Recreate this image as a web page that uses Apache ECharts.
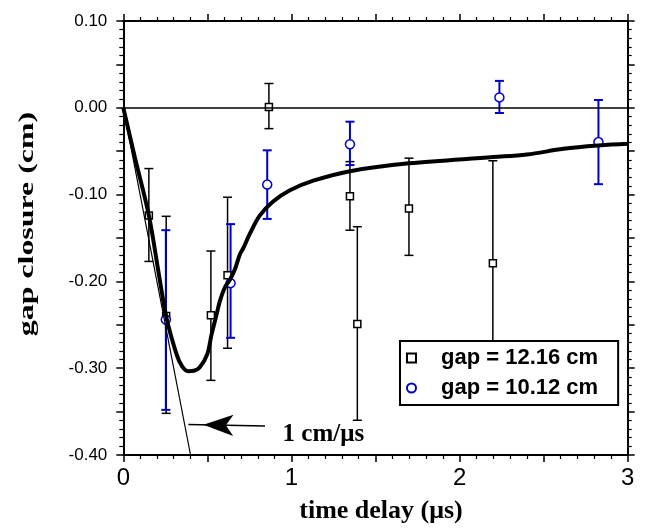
<!DOCTYPE html>
<html>
<head>
<meta charset="utf-8">
<script src="https://cdn.jsdelivr.net/npm/echarts@6/dist/echarts.min.js"></script>
<style>
html,body{margin:0;padding:0;background:#fff;}
#chart{width:645px;height:529px;}
</style>
</head>
<body>
<div id="chart"></div>
<script>
// ---- data ----
const seriesAName = 'gap = 12.16 cm';
const seriesBName = 'gap = 10.12 cm';

// gap = 12.16 cm (black squares)
const aX  = [0.152, 0.255, 0.521, 0.620, 0.866, 1.348, 1.392, 1.699, 2.198];
const aY  = [-0.124, -0.240, -0.239, -0.193, 0.001, -0.102, -0.249, -0.116, -0.179];
const aLo = [-0.177, -0.352, -0.314, -0.277, -0.024, -0.141, -0.360, -0.170, -0.297];
const aHi = [-0.070, -0.125, -0.165, -0.103, 0.028, -0.062, -0.137, -0.058, -0.061];

// gap = 10.12 cm (blue circles)
const bX  = [0.253, 0.638, 0.856, 1.348, 2.237, 2.826];
const bY  = [-0.244, -0.202, -0.0885, -0.042, 0.012, -0.0395];
const bLo = [-0.348, -0.265, -0.128, -0.066, -0.006, -0.088];
const bHi = [-0.141, -0.134, -0.049, -0.016, 0.031, 0.009];

// thick fitted curve
const curveX = [0, 0.07, 0.152, 0.21, 0.257, 0.317, 0.35, 0.386, 0.42, 0.455, 0.499, 0.525, 0.555, 0.574, 0.604, 0.634, 0.664, 0.693, 0.713, 0.753, 0.8125, 0.891, 0.991, 1.13, 1.348, 1.699, 2.2, 2.4, 2.618, 2.826, 3.0];
const curveY = [0, -0.058, -0.124, -0.19, -0.242, -0.284, -0.298, -0.3035, -0.303, -0.299, -0.284, -0.261, -0.238, -0.223, -0.207, -0.198, -0.186, -0.169, -0.162, -0.145, -0.124, -0.108, -0.095, -0.084, -0.073, -0.064, -0.0568, -0.0538, -0.0473, -0.0435, -0.0415];

// 1 cm/us reference line
const refX = [0, 0.4];
const refY = [0, -0.4];

// arrow annotation (tail, tip) and its label
const arrowTail = [0.843, -0.3665];
const arrowTip = [0.387, -0.365];
const arrowLabel = '1 cm/μs';
const arrowLabelPos = [1.19, -0.376];

// axis ticks
const xTickValues = [0, 1, 2, 3];
const xTickLabels = ['0', '1', '2', '3'];
const yTickValues = [-0.4, -0.3, -0.2, -0.1, 0, 0.1];
const yTickLabels = ['-0.40', '-0.30', '-0.20', '-0.10', '0.00', '0.10'];

const xTitle = 'time delay (μs)';
const yTitle = 'gap closure (cm)';

// ---- build ----
const zip2 = (xs, ys) => xs.map((x, i) => [x, ys[i]]);
const zip3 = (xs, lo, hi) => xs.map((x, i) => [x, lo[i], hi[i]]);
const fmt = (vals, labels) => v => {
  const i = vals.findIndex(t => Math.abs(t - v) < 1e-6);
  return i >= 0 ? labels[i] : '';
};
const SANS = '"Liberation Sans", Arial, sans-serif';
const SERIF = '"Liberation Serif", "Times New Roman", serif';
const BLUE = '#0000cc';

function errRender(color, lw) {
  return function (params, api) {
    const x = api.value(0), lo = api.value(1), hi = api.value(2);
    const pLo = api.coord([x, lo]);
    const pHi = api.coord([x, hi]);
    const cap = 4.5;
    const st = { stroke: color, lineWidth: lw };
    return {
      type: 'group',
      children: [
        { type: 'line', shape: { x1: pLo[0], y1: pLo[1], x2: pHi[0], y2: pHi[1] }, style: st },
        { type: 'line', shape: { x1: pLo[0] - cap, y1: pLo[1], x2: pLo[0] + cap, y2: pLo[1] }, style: st },
        { type: 'line', shape: { x1: pHi[0] - cap, y1: pHi[1], x2: pHi[0] + cap, y2: pHi[1] }, style: st }
      ]
    };
  };
}

const axisLine = { show: true, onZero: false, lineStyle: { color: '#000', width: 2 } };
const axisTick = { show: true, inside: false, length: 7, lineStyle: { color: '#000', width: 1.5 } };
const minorTick = { show: true, splitNumber: 5, length: 4, lineStyle: { color: '#000', width: 1.2 } };

function xAx(pos, showLabel) {
  return {
    type: 'value', min: 0, max: 3, interval: 0.5, position: pos,
    axisLine, axisTick, minorTick,
    splitLine: { show: false }, minorSplitLine: { show: false },
    axisLabel: {
      show: showLabel, formatter: fmt(xTickValues, xTickLabels),
      fontFamily: SANS, fontSize: 24, color: '#000', margin: 11
    },
    name: showLabel ? xTitle : '',
    nameLocation: 'middle', nameGap: 43,
    nameTextStyle: { fontFamily: SERIF, fontWeight: 'bold', fontSize: 26, color: '#000', padding: [0, 0, 0, 11] }
  };
}
function yAx(pos, showLabel) {
  return {
    type: 'value', min: -0.4, max: 0.1, interval: 0.05, position: pos,
    axisLine, axisTick, minorTick,
    splitLine: { show: false }, minorSplitLine: { show: false },
    axisLabel: {
      show: showLabel, formatter: fmt(yTickValues, yTickLabels),
      fontFamily: SANS, fontSize: 17, color: '#000', margin: 16
    }
  };
}

const option = {
  animation: false,
  backgroundColor: '#fff',
  grid: { left: 123.3, right: 17.3, top: 21, bottom: 71, containLabel: false },
  xAxis: [xAx('bottom', true), xAx('top', false)],
  yAxis: [yAx('left', true), yAx('right', false)],
  legend: {
    orient: 'vertical', left: 400, top: 341,
    padding: [6, 20, 6, 6], itemGap: 8, itemWidth: 9, itemHeight: 9,
    borderColor: '#000', borderWidth: 2, borderRadius: 0, backgroundColor: '#fff',
    selectedMode: false,
    data: [
      { name: seriesAName, icon: 'rect' },
      { name: seriesBName, icon: 'circle' }
    ],
    formatter: n => '{a|' + n + '}',
    textStyle: {
      rich: { a: { fontFamily: SANS, fontWeight: 'bold', fontSize: 22, color: '#000', padding: [0, 0, 0, 20], lineHeight: 24 } }
    }
  },
  graphic: [{
    type: 'text', x: 27, y: 224, rotation: Math.PI / 2, scaleX: 1.45, scaleY: 1,
    style: { text: yTitle, font: 'bold 22px ' + SERIF, fill: '#000', textAlign: 'center', textVerticalAlign: 'middle' }
  }],
  series: [
    {
      name: 'errA', type: 'custom', z: 2, silent: true,
      renderItem: errRender('#000', 1.5),
      encode: { x: 0, y: [1, 2] },
      data: zip3(aX, aLo, aHi)
    },
    {
      name: 'errB', type: 'custom', z: 2, silent: true,
      renderItem: errRender(BLUE, 2),
      encode: { x: 0, y: [1, 2] },
      data: zip3(bX, bLo, bHi)
    },
    {
      name: seriesAName, type: 'scatter', z: 3, silent: true,
      symbol: 'rect', symbolSize: 7,
      itemStyle: { color: '#fff', borderColor: '#000', borderWidth: 1.5, opacity: 1 },
      data: zip2(aX, aY)
    },
    {
      name: seriesBName, type: 'scatter', z: 3, silent: true,
      symbol: 'circle', symbolSize: 9,
      itemStyle: { color: '#fff', borderColor: BLUE, borderWidth: 1.5, opacity: 1 },
      data: zip2(bX, bY)
    },
    {
      name: 'ref', type: 'line', z: 4, silent: true, showSymbol: false, symbol: 'none',
      lineStyle: { color: '#000', width: 1.2 },
      data: zip2(refX, refY),
      markLine: {
        silent: true, symbol: ['none', 'none'], label: { show: false },
        lineStyle: { color: '#000', width: 1.5, type: 'solid' },
        data: [{ yAxis: 0 }]
      }
    },
    {
      name: 'curve', type: 'line', z: 5, silent: true, showSymbol: false, symbol: 'none',
      smooth: 0.35,
      lineStyle: { color: '#000', width: 4 },
      data: zip2(curveX, curveY)
    },
    {
      name: 'annot', type: 'scatter', z: 6, silent: true,
      symbolSize: 0,
      itemStyle: { color: '#000', opacity: 1 },
      label: {
        show: true, position: 'inside', formatter: arrowLabel,
        fontFamily: SERIF, fontWeight: 'bold', fontSize: 25, color: '#000',
        textBorderWidth: 0, opacity: 1
      },
      data: [arrowLabelPos],
      markLine: {
        silent: true, label: { show: false },
        lineStyle: { color: '#000', width: 1.5, type: 'solid' },
        data: [[
          { coord: arrowTail, symbol: 'none' },
          { coord: arrowTip, symbol: 'arrow', symbolSize: [16, 30], symbolOffset: [0, 15] }
        ]]
      }
    }
  ]
};

const chart = echarts.init(document.getElementById('chart'), null, { renderer: 'canvas' });
chart.setOption(option);
</script>
</body>
</html>
